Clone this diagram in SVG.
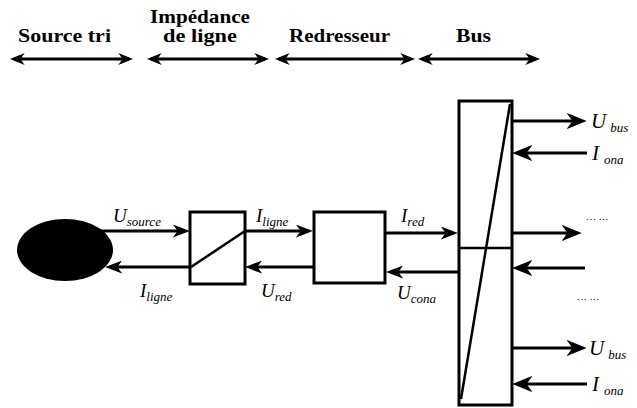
<svg xmlns="http://www.w3.org/2000/svg" width="637" height="408" viewBox="0 0 637 408">
<defs>
<marker id="ah" viewBox="0 0 14 10" refX="10" refY="5" markerWidth="17" markerHeight="13" markerUnits="userSpaceOnUse" orient="auto-start-reverse" preserveAspectRatio="none">
<path d="M0,0 L14,5 L0,10 L4,5 z" fill="#000"/>
</marker>
<marker id="ab" viewBox="0 0 14 10" refX="10" refY="5" markerWidth="20" markerHeight="16" markerUnits="userSpaceOnUse" orient="auto-start-reverse" preserveAspectRatio="none">
<path d="M0,0 L14,5 L0,10 L4,5 z" fill="#000"/>
</marker>
<marker id="hh" viewBox="0 0 14 10" refX="10" refY="5" markerWidth="15" markerHeight="12" markerUnits="userSpaceOnUse" orient="auto-start-reverse" preserveAspectRatio="none">
<path d="M0,0 L14,5 L0,10 L4,5 z" fill="#000"/>
</marker>
</defs>
<style>
.hd{font-family:"Liberation Serif","Times New Roman",serif;font-weight:bold;font-size:19px;fill:#000}
.lb{font-family:"Liberation Serif","Times New Roman",serif;font-style:italic;font-size:19px;fill:#000}
.lbb{font-family:"Liberation Serif","Times New Roman",serif;font-style:italic;font-size:21px;fill:#000}
.sb{font-size:13px}
.dots{font-family:"Liberation Serif",serif;font-size:10px;fill:#000}
.ln{stroke:#000;stroke-width:3;fill:none}
.bx{stroke:#000;stroke-width:3;fill:#fff}
.thin{stroke:#000;stroke-width:2.5;fill:none}
</style>
<rect width="637" height="408" fill="#fff"/>
<g id="headers">
<text class="hd" x="18" y="42" textLength="93" lengthAdjust="spacingAndGlyphs">Source tri</text>
<text class="hd" x="150" y="23" textLength="100" lengthAdjust="spacingAndGlyphs">Impédance</text>
<text class="hd" x="163" y="42" textLength="74" lengthAdjust="spacingAndGlyphs">de ligne</text>
<text class="hd" x="289" y="42" textLength="101" lengthAdjust="spacingAndGlyphs">Redresseur</text>
<text class="hd" x="456" y="42" textLength="35" lengthAdjust="spacingAndGlyphs">Bus</text>
</g>
<g id="connectors">
<line class="ln" x1="14" y1="59" x2="129" y2="59" marker-start="url(#hh)" marker-end="url(#hh)"/>
<line class="ln" x1="151" y1="59" x2="265" y2="59" marker-start="url(#hh)" marker-end="url(#hh)"/>
<line class="ln" x1="279" y1="59" x2="411" y2="59" marker-start="url(#hh)" marker-end="url(#hh)"/>
<line class="ln" x1="422" y1="59" x2="536" y2="59" marker-start="url(#hh)" marker-end="url(#hh)"/>
<line class="ln" x1="100" y1="231" x2="185" y2="231" marker-end="url(#ah)"/>
<line class="ln" x1="190" y1="267" x2="110" y2="267" marker-end="url(#ah)"/>
<line class="ln" x1="245" y1="231" x2="308" y2="231" marker-end="url(#ah)"/>
<line class="ln" x1="313" y1="267" x2="250" y2="267" marker-end="url(#ah)"/>
<line class="ln" x1="386" y1="233" x2="453" y2="233" marker-end="url(#ah)"/>
<line class="ln" x1="458" y1="272" x2="391" y2="272" marker-end="url(#ah)"/>
<line class="ln" x1="512" y1="121" x2="581" y2="121" marker-end="url(#ab)"/>
<line class="ln" x1="587" y1="153" x2="518" y2="153" marker-end="url(#ab)"/>
<line class="ln" x1="512" y1="233" x2="576" y2="233" marker-end="url(#ab)"/>
<line class="ln" x1="585" y1="268" x2="518" y2="268" marker-end="url(#ab)"/>
<line class="ln" x1="512" y1="348" x2="581" y2="348" marker-end="url(#ab)"/>
<line class="ln" x1="587" y1="384" x2="518" y2="384" marker-end="url(#ab)"/>
</g>
<g id="source">
<ellipse cx="65" cy="250" rx="48" ry="31" fill="#000"/>
</g>
<g id="impedance">
<rect class="bx" x="190" y="212" width="55" height="72"/>
<line class="thin" x1="191" y1="267" x2="245" y2="231"/>
</g>
<g id="redresseur">
<rect class="bx" x="314" y="212" width="71" height="71"/>
</g>
<g id="bus">
<rect class="bx" x="459" y="101" width="53" height="304"/>
<line class="thin" x1="459" y1="248" x2="512" y2="248"/>
<line class="thin" x1="461" y1="399" x2="510" y2="104"/>
</g>
<g id="labels">
<text class="lb" x="113" y="222">U<tspan class="sb" dy="4">source</tspan></text>
<text class="lb" x="256" y="222">I<tspan class="sb" dy="4">ligne</tspan></text>
<text class="lb" x="140" y="297">I<tspan class="sb" dy="4">ligne</tspan></text>
<text class="lb" x="261" y="297">U<tspan class="sb" dy="4">red</tspan></text>
<text class="lb" x="401" y="222">I<tspan class="sb" dy="4">red</tspan></text>
<text class="lb" x="397" y="299">U<tspan class="sb" dy="4">cona</tspan></text>
<text class="lbb" x="591" y="128">U<tspan class="sb" dx="4" dy="4">bus</tspan></text>
<text class="lbb" x="592" y="160">I<tspan class="sb" dx="5" dy="4">ona</tspan></text>
<text class="lbb" x="589" y="355">U<tspan class="sb" dx="4" dy="4">bus</tspan></text>
<text class="lbb" x="592" y="391">I<tspan class="sb" dx="5" dy="4">ona</tspan></text>
<text class="dots" x="586" y="220">… …</text>
<text class="dots" x="577" y="300">… …</text>
</g>
</svg>
